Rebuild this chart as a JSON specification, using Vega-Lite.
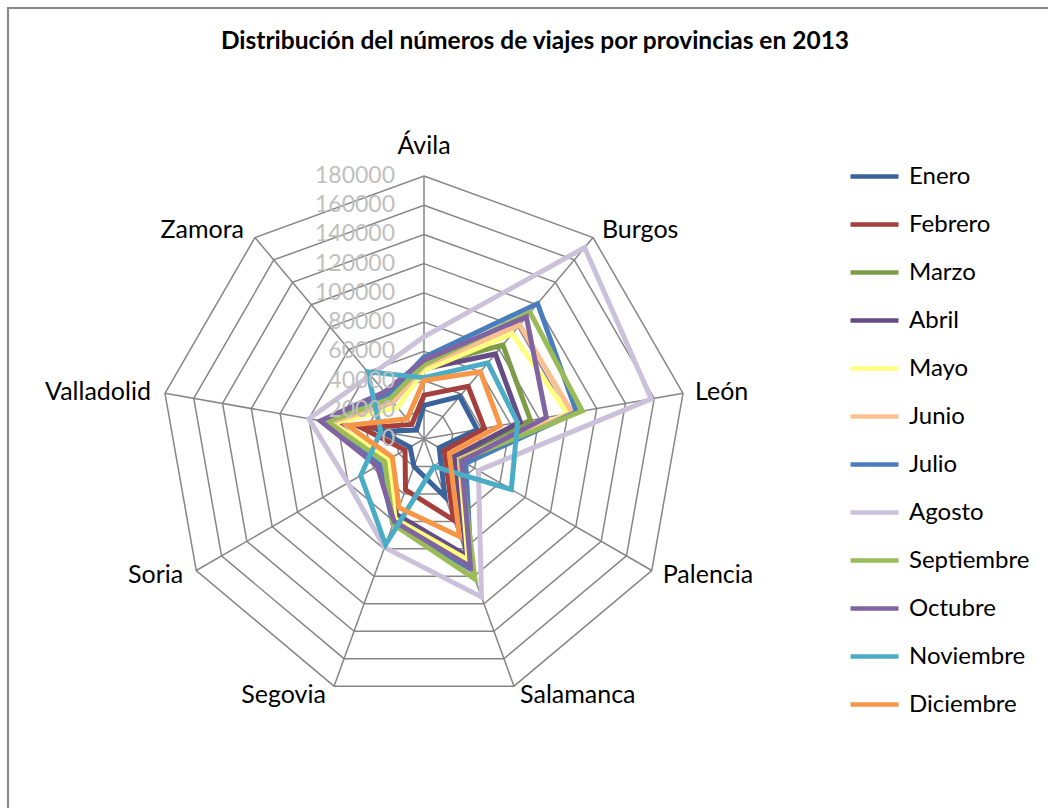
{
  "$schema": "https://vega.github.io/schema/vega-lite/v6.json",
  "width": 1044,
  "height": 804,
  "autosize": {"type": "none"},
  "padding": {"left": 8, "top": 8, "right": -4, "bottom": -4},
  "background": "white",
  "title": {"text": "Distribución del números de viajes por provincias en 2013"},
  "datasets": {
    "viajes": [
      {"mes": "Enero", "Ávila": 23000, "Burgos": 38000, "León": 37000, "Palencia": 12000, "Salamanca": 42000, "Segovia": 20000, "Soria": 11000, "Valladolid": 30000, "Zamora": 8000},
      {"mes": "Febrero", "Ávila": 30000, "Burgos": 47000, "León": 42000, "Palencia": 16000, "Salamanca": 59000, "Segovia": 37000, "Soria": 15000, "Valladolid": 43000, "Zamora": 13000},
      {"mes": "Marzo", "Ávila": 50000, "Burgos": 84000, "León": 74000, "Palencia": 25000, "Salamanca": 90000, "Segovia": 57000, "Soria": 30000, "Valladolid": 62000, "Zamora": 33000},
      {"mes": "Abril", "Ávila": 48000, "Burgos": 76000, "León": 67000, "Palencia": 24000, "Salamanca": 85000, "Segovia": 55000, "Soria": 33000, "Valladolid": 60000, "Zamora": 35000},
      {"mes": "Mayo", "Ávila": 47000, "Burgos": 94000, "León": 100000, "Palencia": 28000, "Salamanca": 88000, "Segovia": 58000, "Soria": 28000, "Valladolid": 63000, "Zamora": 28000},
      {"mes": "Junio", "Ávila": 50000, "Burgos": 102000, "León": 103000, "Palencia": 28000, "Salamanca": 99000, "Segovia": 62000, "Soria": 32000, "Valladolid": 65000, "Zamora": 33000},
      {"mes": "Julio", "Ávila": 56000, "Burgos": 121000, "León": 106000, "Palencia": 33000, "Salamanca": 95000, "Segovia": 62000, "Soria": 35000, "Valladolid": 70000, "Zamora": 39000},
      {"mes": "Agosto", "Ávila": 70000, "Burgos": 171000, "León": 158000, "Palencia": 43000, "Salamanca": 115000, "Segovia": 79000, "Soria": 60000, "Valladolid": 80000, "Zamora": 57000},
      {"mes": "Septiembre", "Ávila": 51000, "Burgos": 113000, "León": 110000, "Palencia": 29000, "Salamanca": 102000, "Segovia": 62000, "Soria": 31000, "Valladolid": 67000, "Zamora": 36000},
      {"mes": "Octubre", "Ávila": 54000, "Burgos": 109000, "León": 85000, "Palencia": 30000, "Salamanca": 93000, "Segovia": 60000, "Soria": 37000, "Valladolid": 72000, "Zamora": 42000},
      {"mes": "Noviembre", "Ávila": 42000, "Burgos": 68000, "León": 65000, "Palencia": 69000, "Salamanca": 20000, "Segovia": 77000, "Soria": 50000, "Valladolid": 30000, "Zamora": 60000},
      {"mes": "Diciembre", "Ávila": 40000, "Burgos": 60000, "León": 53000, "Palencia": 20000, "Salamanca": 71000, "Segovia": 50000, "Soria": 25000, "Valladolid": 53000, "Zamora": 18000}
    ],
    "rings": [
      {"ring": 0, "provincia": ["Ávila", "Burgos", "León", "Palencia", "Salamanca", "Segovia", "Soria", "Valladolid", "Zamora"]},
      {"ring": 20000, "provincia": ["Ávila", "Burgos", "León", "Palencia", "Salamanca", "Segovia", "Soria", "Valladolid", "Zamora"]},
      {"ring": 40000, "provincia": ["Ávila", "Burgos", "León", "Palencia", "Salamanca", "Segovia", "Soria", "Valladolid", "Zamora"]},
      {"ring": 60000, "provincia": ["Ávila", "Burgos", "León", "Palencia", "Salamanca", "Segovia", "Soria", "Valladolid", "Zamora"]},
      {"ring": 80000, "provincia": ["Ávila", "Burgos", "León", "Palencia", "Salamanca", "Segovia", "Soria", "Valladolid", "Zamora"]},
      {"ring": 100000, "provincia": ["Ávila", "Burgos", "León", "Palencia", "Salamanca", "Segovia", "Soria", "Valladolid", "Zamora"]},
      {"ring": 120000, "provincia": ["Ávila", "Burgos", "León", "Palencia", "Salamanca", "Segovia", "Soria", "Valladolid", "Zamora"]},
      {"ring": 140000, "provincia": ["Ávila", "Burgos", "León", "Palencia", "Salamanca", "Segovia", "Soria", "Valladolid", "Zamora"]},
      {"ring": 160000, "provincia": ["Ávila", "Burgos", "León", "Palencia", "Salamanca", "Segovia", "Soria", "Valladolid", "Zamora"]},
      {"ring": 180000, "provincia": ["Ávila", "Burgos", "León", "Palencia", "Salamanca", "Segovia", "Soria", "Valladolid", "Zamora"]}
    ]
  },
  "layer": [
    {
      "data": {"name": "rings"},
      "transform": [
        {"filter": "datum.ring > 0"},
        {"flatten": ["provincia"]},
        {"calculate": "indexof(['Ávila','Burgos','León','Palencia','Salamanca','Segovia','Soria','Valladolid','Zamora'], datum.provincia)", "as": "k"},
        {"calculate": "datum.ring * sin(datum.k * 2 * PI / 9)", "as": "px"},
        {"calculate": "datum.ring * cos(datum.k * 2 * PI / 9)", "as": "py"}
      ],
      "mark": {"type": "line", "interpolate": "linear-closed", "stroke": "#868686", "strokeWidth": 1.5},
      "encoding": {
        "x": {"field": "px", "type": "quantitative", "scale": {"domain": [-284715, 429809], "nice": false, "zero": false}, "axis": null},
        "y": {"field": "py", "type": "quantitative", "scale": {"domain": [-255285, 294981], "nice": false, "zero": false}, "axis": null},
        "detail": {"field": "ring", "type": "nominal"},
        "order": {"field": "k", "type": "quantitative"}
      }
    },
    {
      "data": {"name": "rings"},
      "transform": [
        {"filter": "datum.ring == 180000"},
        {"flatten": ["provincia"]},
        {"calculate": "indexof(['Ávila','Burgos','León','Palencia','Salamanca','Segovia','Soria','Valladolid','Zamora'], datum.provincia)", "as": "k"},
        {"calculate": "datum.ring * sin(datum.k * 2 * PI / 9)", "as": "px"},
        {"calculate": "datum.ring * cos(datum.k * 2 * PI / 9)", "as": "py"}
      ],
      "mark": {"type": "rule", "stroke": "#868686", "strokeWidth": 1.5},
      "encoding": {
        "x": {"field": "px", "type": "quantitative"},
        "y": {"field": "py", "type": "quantitative"},
        "x2": {"datum": 0},
        "y2": {"datum": 0}
      }
    },
    {
      "data": {"name": "viajes"},
      "transform": [
        {"fold": ["Ávila", "Burgos", "León", "Palencia", "Salamanca", "Segovia", "Soria", "Valladolid", "Zamora"], "as": ["provincia", "viajes"]},
        {"calculate": "indexof(['Ávila','Burgos','León','Palencia','Salamanca','Segovia','Soria','Valladolid','Zamora'], datum.provincia)", "as": "k"},
        {"calculate": "datum.viajes * sin(datum.k * 2 * PI / 9)", "as": "px"},
        {"calculate": "datum.viajes * cos(datum.k * 2 * PI / 9)", "as": "py"}
      ],
      "mark": {"type": "line", "interpolate": "linear-closed", "strokeWidth": 5},
      "encoding": {
        "x": {"field": "px", "type": "quantitative"},
        "y": {"field": "py", "type": "quantitative"},
        "color": {
          "field": "mes",
          "type": "nominal",
          "sort": ["Enero", "Febrero", "Marzo", "Abril", "Mayo", "Junio", "Julio", "Agosto", "Septiembre", "Octubre", "Noviembre", "Diciembre"],
          "scale": {
            "domain": ["Enero", "Febrero", "Marzo", "Abril", "Mayo", "Junio", "Julio", "Agosto", "Septiembre", "Octubre", "Noviembre", "Diciembre"],
            "range": ["#3B639B", "#A43F3C", "#7E9C48", "#654C84", "#FFFF80", "#FAC08F", "#4A7DBB", "#CCC1DA", "#9BBB59", "#8064A2", "#4BACC6", "#F79646"]
          },
          "legend": {
            "orient": "none", "legendX": 840, "legendY": 142, "title": null,
            "symbolType": "stroke", "symbolSize": 2304, "symbolStrokeWidth": 4.5,
            "labelFont": "Lato", "labelFontSize": 24, "labelColor": "#000000",
            "rowPadding": 9, "labelOffset": 8, "padding": 0
          }
        },
        "order": {"field": "k", "type": "quantitative"}
      }
    },
    {
      "data": {"name": "rings"},
      "mark": {"type": "text", "align": "right", "baseline": "middle", "dx": -29, "font": "Lato", "fontSize": 23, "color": "#BFBFBF"},
      "encoding": {
        "x": {"datum": 0, "type": "quantitative"},
        "y": {"field": "ring", "type": "quantitative"},
        "text": {"field": "ring", "type": "quantitative", "format": "d"}
      }
    },
    {
      "data": {"name": "rings"},
      "transform": [
        {"filter": "datum.ring == 180000"},
        {"flatten": ["provincia"]},
        {"calculate": "indexof(['Ávila','Burgos','León','Palencia','Salamanca','Segovia','Soria','Valladolid','Zamora'], datum.provincia)", "as": "k"},
        {"calculate": "datum.ring * 1.035 * sin(datum.k * 2 * PI / 9)", "as": "lx"},
        {"calculate": "datum.ring * 1.035 * cos(datum.k * 2 * PI / 9)", "as": "ly"},
        {"filter": "datum.k == 0"}
      ],
      "mark": {"type": "text", "align": "center", "baseline": "middle", "dy": -21, "font": "Lato", "fontSize": 25, "color": "#000000"},
      "encoding": {
        "x": {"field": "lx", "type": "quantitative"},
        "y": {"field": "ly", "type": "quantitative"},
        "text": {"field": "provincia", "type": "nominal"}
      }
    },
    {
      "data": {"name": "rings"},
      "transform": [
        {"filter": "datum.ring == 180000"},
        {"flatten": ["provincia"]},
        {"calculate": "indexof(['Ávila','Burgos','León','Palencia','Salamanca','Segovia','Soria','Valladolid','Zamora'], datum.provincia)", "as": "k"},
        {"calculate": "datum.ring * 1.035 * sin(datum.k * 2 * PI / 9)", "as": "lx"},
        {"calculate": "datum.ring * 1.035 * cos(datum.k * 2 * PI / 9)", "as": "ly"},
        {"filter": "datum.k >= 1 && datum.k <= 4"}
      ],
      "mark": {"type": "text", "align": "left", "baseline": "middle", "dx": 3, "font": "Lato", "fontSize": 25, "color": "#000000"},
      "encoding": {
        "x": {"field": "lx", "type": "quantitative"},
        "y": {"field": "ly", "type": "quantitative"},
        "text": {"field": "provincia", "type": "nominal"}
      }
    },
    {
      "data": {"name": "rings"},
      "transform": [
        {"filter": "datum.ring == 180000"},
        {"flatten": ["provincia"]},
        {"calculate": "indexof(['Ávila','Burgos','León','Palencia','Salamanca','Segovia','Soria','Valladolid','Zamora'], datum.provincia)", "as": "k"},
        {"calculate": "datum.ring * 1.035 * sin(datum.k * 2 * PI / 9)", "as": "lx"},
        {"calculate": "datum.ring * 1.035 * cos(datum.k * 2 * PI / 9)", "as": "ly"},
        {"filter": "datum.k >= 5"}
      ],
      "mark": {"type": "text", "align": "right", "baseline": "middle", "dx": -5, "font": "Lato", "fontSize": 25, "color": "#000000"},
      "encoding": {
        "x": {"field": "lx", "type": "quantitative"},
        "y": {"field": "ly", "type": "quantitative"},
        "text": {"field": "provincia", "type": "nominal"}
      }
    }
  ],
  "config": {
    "font": "Lato",
    "view": {"stroke": "#868686", "strokeWidth": 2},
    "title": {"font": "Lato", "fontSize": 24.5, "fontWeight": "bold", "color": "#000000", "anchor": "middle", "frame": "group", "offset": -46, "baseline": "alphabetic", "dx": 5}
  }
}
